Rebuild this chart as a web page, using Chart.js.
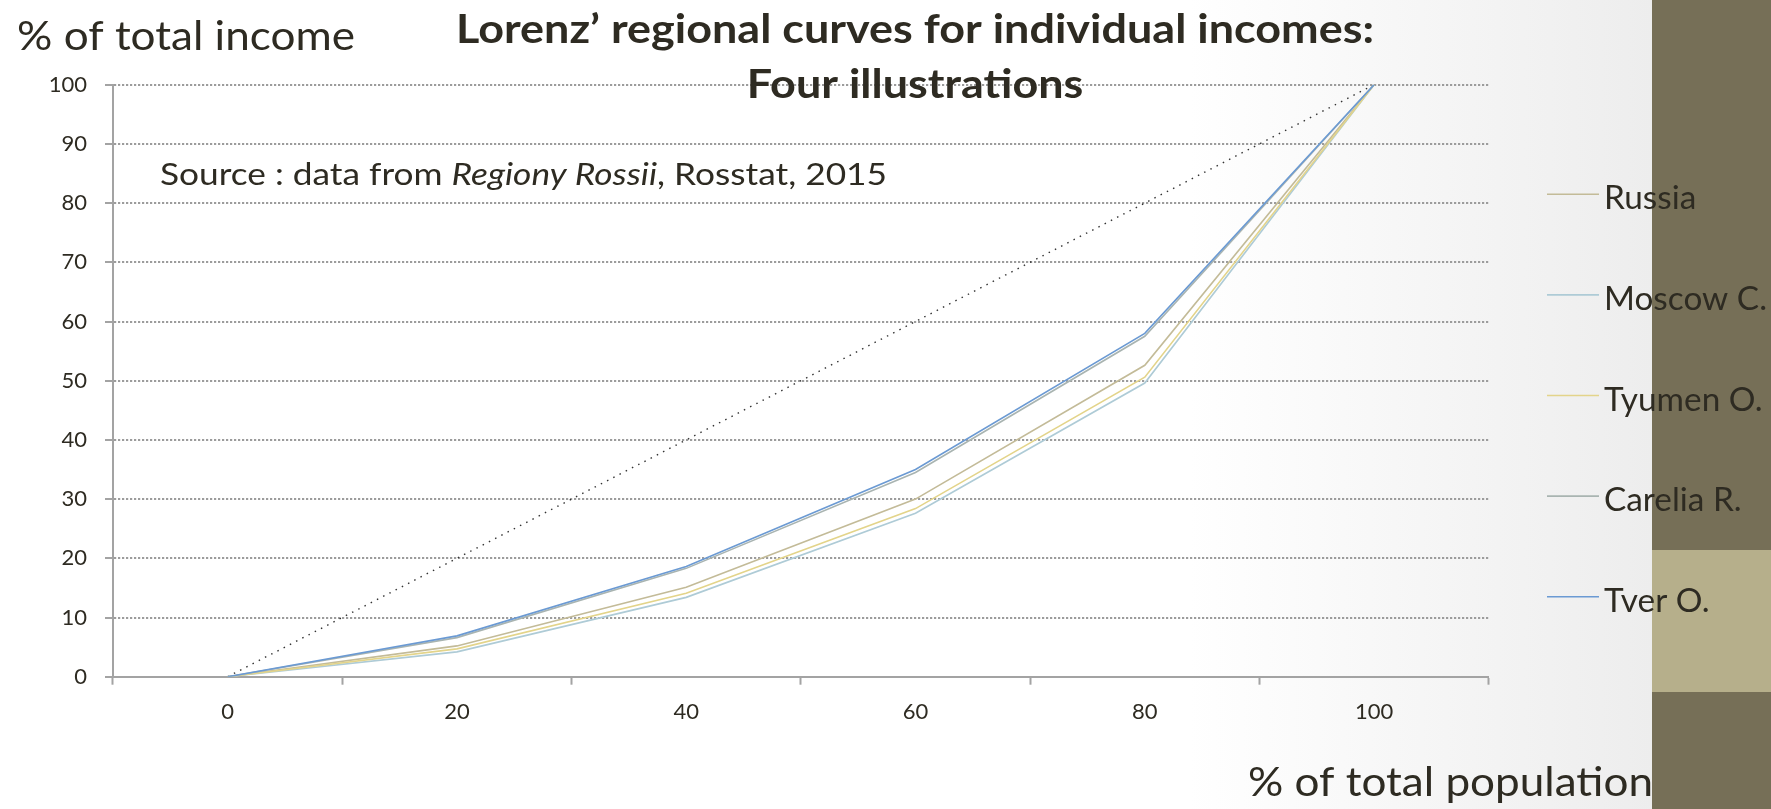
<!DOCTYPE html>
<html>
<head>
<meta charset="utf-8">
<script src="https://cdn.jsdelivr.net/npm/chart.js@4/dist/chart.umd.min.js"></script>
<style>
  html, body { margin: 0; padding: 0; background: #ffffff; overflow: hidden; }
  canvas { display: block; }
</style>
</head>
<body>
<canvas id="lorenz" width="1771" height="809"></canvas>
<script>
// Cumulative share of population (x categories)
const populationShare = ['0', '20', '40', '60', '80', '100'];
// Line of perfect equality
const equalityLine = [0, 20, 40, 60, 80, 100];
// Cumulative share of total income, by region (%)
const russia          = [0, 5.2, 15.1, 30.0, 52.6, 100];
const moscowCity      = [0, 4.2, 13.4, 27.6, 49.6, 100];
const tyumenOblast    = [0, 4.7, 14.1, 28.4, 50.6, 100];
const kareliaRepublic = [0, 6.6, 18.3, 34.5, 57.5, 100];
const tverOblast      = [0, 6.9, 18.6, 35.0, 58.0, 100];
const seriesNames  = ['Russia', 'Moscow C.', 'Tyumen O.', 'Carelia R.', 'Tver O.'];
const seriesColors = ['#c3bb98', '#aecbd6', '#e3d48a', '#a9b4b1', '#6b9ad3'];
const incomeTicks  = [0, 10, 20, 30, 40, 50, 60, 70, 80, 90, 100];

const INK = '#2e2b22';
const FAMILY = 'Lato, "Open Sans", sans-serif';

// Draw a run of text segments, stretched horizontally to a given width
function drawFitted(ctx, parts, left, baseline, width) {
  let natural = 0;
  parts.forEach(p => { ctx.font = p.font; p.w = ctx.measureText(p.text).width; natural += p.w; });
  const sx = width / natural;
  drawScaled(ctx, parts, left, baseline, sx);
  return sx;
}
function drawScaled(ctx, parts, left, baseline, sx) {
  ctx.save();
  ctx.translate(left, baseline);
  ctx.scale(sx, 1);
  ctx.textAlign = 'left';
  ctx.textBaseline = 'alphabetic';
  let x = 0;
  parts.forEach(p => { ctx.font = p.font; ctx.fillText(p.text, x, 0); x += ctx.measureText(p.text).width; });
  ctx.restore();
}
function textWidth(ctx, text, font) { ctx.font = font; return ctx.measureText(text).width; }

const slideDecor = {
  id: 'slideDecor',
  beforeDraw(chart) {
    const ctx = chart.ctx;
    const W = chart.width, H = chart.height;
    ctx.save();
    const g = ctx.createLinearGradient(0, 0, 1652, 0);
    g.addColorStop(0, '#ffffff');
    g.addColorStop(0.72, '#ffffff');
    g.addColorStop(1, '#ededed');
    ctx.fillStyle = g;
    ctx.fillRect(0, 0, W, H);
    // side band
    ctx.fillStyle = '#766f57';
    ctx.fillRect(1652, 0, W - 1652, H);
    ctx.fillStyle = '#b6af8b';
    ctx.fillRect(1652, 550, W - 1652, 142);
    ctx.restore();
  },
  afterDraw(chart) {
    const ctx = chart.ctx;
    ctx.save();
    ctx.fillStyle = INK;

    // axis titles
    drawFitted(ctx, [{ text: '% of total income', font: '400 41px ' + FAMILY }], 17, 50, 338);
    drawFitted(ctx, [{ text: '% of total population', font: '400 41px ' + FAMILY }], 1248, 796, 405);

    // chart title (two centred lines)
    const titleFont = '700 40px ' + FAMILY;
    const t1 = 'Lorenz\u2019 regional curves for individual incomes:';
    const t2 = 'Four illustrations';
    const cx = 915;
    const w1 = 918;
    const sx = w1 / textWidth(ctx, t1, titleFont);
    drawScaled(ctx, [{ text: t1, font: titleFont }], cx - w1 / 2, 43, sx);
    const w2 = textWidth(ctx, t2, titleFont) * sx;
    drawScaled(ctx, [{ text: t2, font: titleFont }], cx - w2 / 2, 98, sx);

    // source note
    const srcFont = '400 31px ' + FAMILY;
    const srcItalic = 'italic 400 31px ' + FAMILY;
    drawFitted(ctx, [
      { text: 'Source : data from ', font: srcFont },
      { text: 'Regiony Rossii', font: srcItalic },
      { text: ', Rosstat, 2015', font: srcFont }
    ], 160, 185, 727);

    // legend
    const legFont = '400 32px ' + FAMILY;
    const legSx = 163 / textWidth(ctx, 'Moscow C.', legFont);
    seriesNames.forEach((name, i) => {
      const y = 194.3 + i * 100.6;
      ctx.strokeStyle = seriesColors[i];
      ctx.lineWidth = 1.6;
      ctx.beginPath();
      ctx.moveTo(1547, y);
      ctx.lineTo(1599, y);
      ctx.stroke();
      drawScaled(ctx, [{ text: name, font: legFont }], 1604, y + 15, legSx);
    });
    ctx.restore();
  }
};

const regionValues = [russia, moscowCity, tyumenOblast, kareliaRepublic, tverOblast];
const datasets = regionValues.map((vals, i) => ({
  label: seriesNames[i],
  data: vals,
  borderColor: seriesColors[i],
  backgroundColor: seriesColors[i],
  borderWidth: 1.6,
  pointRadius: 0,
  tension: 0,
  fill: false,
  order: regionValues.length - 1 - i
}));
datasets.push({
  label: 'equality',
  data: equalityLine,
  borderColor: '#333333',
  borderWidth: 1.4,
  borderDash: [1.5, 5.5],
  pointRadius: 0,
  tension: 0,
  fill: false,
  order: 10
});

new Chart(document.getElementById('lorenz'), {
  type: 'line',
  data: { labels: populationShare, datasets },
  plugins: [slideDecor],
  options: {
    responsive: false,
    animation: false,
    events: [],
    layout: { padding: { left: 0, top: 84.7, right: 282.3, bottom: 0 } },
    plugins: { legend: { display: false }, tooltip: { enabled: false }, title: { display: false } },
    scales: {
      x: {
        type: 'category',
        offset: true,
        grid: {
          offset: true,
          drawOnChartArea: false,
          drawTicks: true,
          tickLength: 8,
          tickColor: '#a3a3a3',
          tickWidth: 2
        },
        border: { display: true, color: '#a3a3a3', width: 2 },
        ticks: {
          color: INK,
          font: { family: FAMILY, size: 22 },
          padding: 14,
          maxRotation: 0
        },
        afterFit(scale) { scale.height = 809 - 676.7; }
      },
      y: {
        min: 0,
        max: 100,
        afterBuildTicks(scale) { scale.ticks = incomeTicks.map(v => ({ value: v })); },
        grid: {
          color: '#9c9c9c',
          lineWidth: 2,
          drawTicks: true,
          tickLength: 8,
          tickColor: '#a3a3a3',
          tickWidth: 2
        },
        border: { display: true, color: '#a3a3a3', width: 2, dash: [2.2, 1.8] },
        ticks: {
          color: INK,
          font: { family: FAMILY, size: 22 },
          padding: 18
        },
        afterFit(scale) { scale.width = 113; }
      }
    }
  }
});
</script>
</body>
</html>
